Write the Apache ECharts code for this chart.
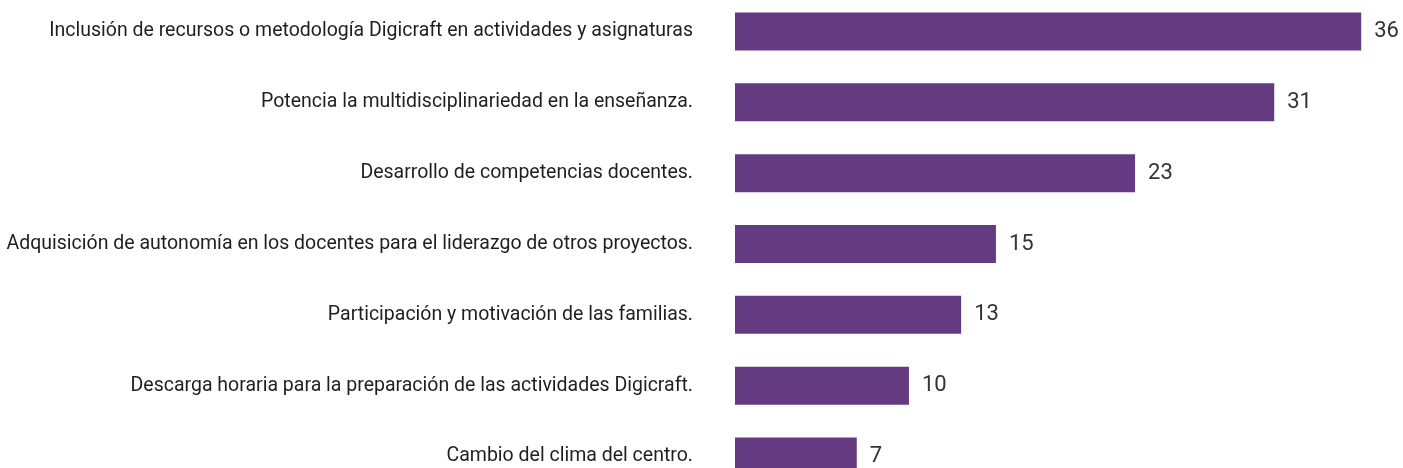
<!DOCTYPE html>
<html><head><meta charset="utf-8">
<script src="https://cdn.jsdelivr.net/npm/echarts@6/dist/echarts.min.js"></script>
<style>html,body{margin:0;padding:0;background:#fff}#c{width:1403px;height:468px}</style>
</head><body><div id="c"></div>
<script>
const categories = [
  "Inclusión de recursos o metodología Digicraft en actividades y asignaturas",
  "Potencia la multidisciplinariedad en la enseñanza.",
  "Desarrollo de competencias docentes.",
  "Adquisición de autonomía en los docentes para el liderazgo de otros proyectos.",
  "Participación y motivación de las familias.",
  "Descarga horaria para la preparación de las actividades Digicraft.",
  "Cambio del clima del centro."
];
const values = [36, 31, 23, 15, 13, 10, 7];

const chart = echarts.init(document.getElementById('c'));
chart.setOption({
  animation: false,
  grid: { left: 735, right: 7, top: -4, height: 496, containLabel: false, outerBoundsMode: 'none' },
  xAxis: { type: 'value', min: 0, max: 38, show: false },
  yAxis: {
    type: 'category', data: categories, inverse: true,
    axisLine: { show: false }, axisTick: { show: false },
    axisLabel: { margin: 42, fontSize: 19.5, color: '#1f1f1f', fontFamily: 'Roboto' }
  },
  series: [{
    type: 'bar', data: values, barWidth: 38,
    itemStyle: { color: '#643b80' },
    label: { show: true, position: 'right', distance: 13, fontSize: 22, color: '#333', fontFamily: 'Roboto' }
  }]
});
</script></body></html>
